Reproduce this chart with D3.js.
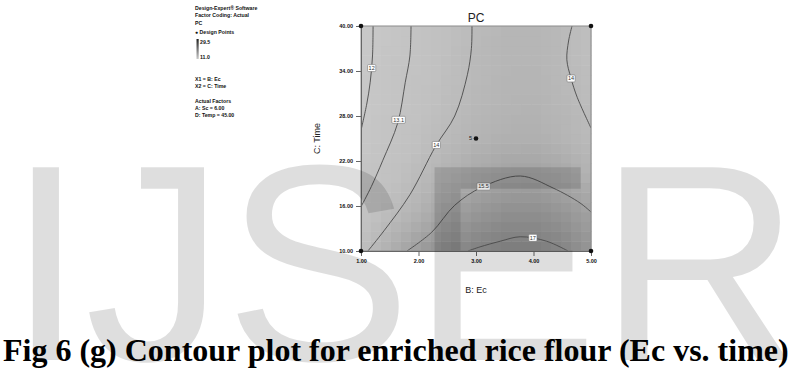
<!DOCTYPE html>
<html><head><meta charset="utf-8">
<script src="https://cdn.jsdelivr.net/npm/d3@7"></script>
<style>
html,body{margin:0;padding:0;background:#fff;}
svg{display:block;}
</style></head><body>
<svg id="chart" width="798" height="370"></svg>
<script>
// Axis ticks for the two plotted factors
const ecTicks = [1, 2, 3, 4, 5];
const timeTicks = [10, 16, 22, 28, 34, 40];

// PC response over the Ec x Time plane (rows: Time, columns: Ec)
const gridEc = [1, 1.5, 2, 2.5, 3, 3.5, 4, 4.5, 5];
const gridTime = [40, 35, 30, 25, 20, 15, 10];
const gridPC = [
  [11.7, 12.45, 13.1, 13.6, 14.05, 14.3, 14.35, 14.15, 13.6],
  [11.7, 12.5, 13.15, 13.65, 14.1, 14.35, 14.4, 14.1, 13.7],
  [11.85, 12.65, 13.3, 13.8, 14.2, 14.45, 14.5, 14.25, 13.85],
  [12.1, 12.95, 13.55, 14.1, 14.5, 14.7, 14.75, 14.5, 14.05],
  [12.6, 13.35, 14.0, 14.6, 15.1, 15.45, 15.5, 15.2, 14.6],
  [13.1, 13.9, 14.6, 15.5, 16.1, 16.5, 16.55, 16.2, 15.5],
  [13.7, 14.8, 15.8, 16.6, 17.2, 17.5, 17.5, 17.1, 16.2]
];

// Contour lines: [Ec, Time] vertices, label text and where the label sits along the line
const contour12 = [[1.21, 40], [1.2, 36], [1.16, 32.5], [1.1, 29.6], [1.0, 26.1]];
const contour13 = [[1.87, 40], [1.85, 36], [1.77, 32.5], [1.64, 27.1], [1.38, 22.1], [1.18, 18.6], [1.0, 15.9]];
const contour14a = [[2.93, 40], [2.92, 37], [2.85, 33.5], [2.63, 28], [2.3, 24], [1.85, 17.5], [1.4, 12.7], [1.12, 10]];
const contour14b = [[4.67, 40], [4.61, 38], [4.58, 35.5], [4.65, 33.1], [4.76, 30.5], [5.0, 26.4]];
const contour15 = [[1.8, 10], [2.23, 12.5], [2.63, 16.1], [3.1, 18.5], [3.77, 20], [4.34, 18.4], [4.81, 16.4], [5.0, 15.2]];
const contour17 = [[2.86, 10], [3.07, 10.55], [3.42, 11.3], [3.77, 11.9], [4.23, 11.3], [4.6, 10]];
const contourLabels = ["12", "13.1", "14", "14", "15.5", "17"];
const contourLabelAt = [0.4, 0.5, 0.5, 0.5, 0.46, 0.64];
const contourLines = [contour12, contour13, contour14a, contour14b, contour15, contour17];

// Design points
const designEc = [1, 5, 1, 5, 3];
const designTime = [40, 40, 10, 10, 25];
const designReps = ["", "", "", "", "5"];

// Side notes
const noteLines = ["Design-Expert\u00ae Software", "Factor Coding: Actual", "PC", "\u25CF Design Points"];
const noteRange = ["29.5", "11.0"];
const noteFactors = ["X1 = B: Ec", "X2 = C: Time"];
const noteActual = ["Actual Factors", "A: Sc = 6.00", "D: Temp = 45.00"];

const caption = "Fig 6 (g) Contour plot for enriched rice flour (Ec vs. time)";
const watermark = "IJSER";

const svg = d3.select("#chart");
const x = d3.scaleLinear().domain([1, 5]).range([361, 591]);
const y = d3.scaleLinear().domain([10, 40]).range([251, 26]);
const shade = d3.scaleLinear()
  .domain([11.5, 13.5, 14.5, 15.5, 16.5, 17.5])
  .range(["#c9c9c9", "#c1c1c1", "#b4b4b4", "#a2a2a2", "#8f8f8f", "#7b7b7b"]).clamp(true);

// bilinear lookup into the response grid
function pcAt(ec, t) {
  const ci = Math.min(gridEc.length - 2, Math.max(0, d3.bisectRight(gridEc, ec) - 1));
  const rev = gridTime.slice().reverse();
  const ri = Math.min(rev.length - 2, Math.max(0, d3.bisectRight(rev, t) - 1));
  const fx = (ec - gridEc[ci]) / (gridEc[ci + 1] - gridEc[ci]);
  const fy = (t - rev[ri]) / (rev[ri + 1] - rev[ri]);
  const row = k => gridPC[gridTime.length - 1 - k];
  const a = row(ri)[ci], b = row(ri)[ci + 1], c = row(ri + 1)[ci], d = row(ri + 1)[ci + 1];
  return (a * (1 - fx) + b * fx) * (1 - fy) + (c * (1 - fx) + d * fx) * fy;
}

// shaded surface as blocks
const nb = 23;
const blocks = [];
for (let i = 0; i < nb; i++) for (let j = 0; j < nb; j++) {
  const e0 = 1 + i * 4 / nb, e1 = 1 + (i + 1) * 4 / nb;
  const t0 = 10 + j * 30 / nb, t1 = 10 + (j + 1) * 30 / nb;
  blocks.push({e0, e1, t0, t1, v: pcAt((e0 + e1) / 2, (t0 + t1) / 2)});
}
svg.append("g").selectAll("rect").data(blocks).join("rect")
  .attr("x", d => x(d.e0)).attr("width", d => x(d.e1) - x(d.e0) + 0.5)
  .attr("y", d => y(d.t1)).attr("height", d => y(d.t0) - y(d.t1) + 0.5)
  .attr("fill", d => shade(d.v));

svg.append("clipPath").attr("id", "plotclip").append("rect")
  .attr("x", x(1)).attr("y", y(40)).attr("width", x(5) - x(1)).attr("height", y(10) - y(40));

// contour lines
const line = d3.line().x(d => x(d[0])).y(d => y(d[1])).curve(d3.curveCatmullRom.alpha(0.5));
const cg = svg.append("g").attr("clip-path", "url(#plotclip)");
const paths = contourLines.map(pts => cg.append("path").attr("d", line(pts))
  .attr("fill", "none").attr("stroke", "#4a4a4a").attr("stroke-width", 0.9));

// contour labels
paths.forEach((p, i) => {
  const node = p.node();
  const pt = node.getPointAtLength(node.getTotalLength() * contourLabelAt[i]);
  const w = contourLabels[i].length * 2.6 + 3;
  svg.append("rect").attr("x", pt.x - w / 2).attr("y", pt.y - 3.5).attr("width", w).attr("height", 7)
    .attr("rx", 1).attr("fill", "#fff").attr("stroke", "#777").attr("stroke-width", 0.6);
  svg.append("text").attr("x", pt.x).attr("y", pt.y + 2).attr("text-anchor", "middle")
    .attr("font-family", "Liberation Sans Narrow, Liberation Sans, Arial, sans-serif")
    .attr("font-size", 5.5).attr("fill", "#333").text(contourLabels[i]);
});

// frame
svg.append("rect").attr("x", x(1)).attr("y", y(40)).attr("width", x(5) - x(1)).attr("height", y(10) - y(40))
  .attr("fill", "none").attr("stroke", "#8c8c8c").attr("stroke-width", 1);

const tickFont = "Liberation Sans Narrow, Liberation Sans, Arial, sans-serif";
// x axis
const xa = svg.append("g").attr("transform", `translate(0,${y(10)})`)
  .call(d3.axisBottom(x).tickValues(ecTicks).tickFormat(d3.format(".2f")).tickSize(5).tickPadding(3));
xa.select(".domain").attr("stroke", "#666");
xa.selectAll(".tick line").attr("stroke", "#666");
xa.selectAll("text").attr("font-family", tickFont).attr("font-size", 5.5).attr("font-weight", "bold").attr("fill", "#111");
// y axis
const ya = svg.append("g").attr("transform", `translate(${x(1)},0)`)
  .call(d3.axisLeft(y).tickValues(timeTicks).tickFormat(d3.format(".2f")).tickSize(5).tickPadding(3));
ya.select(".domain").attr("stroke", "#666");
ya.selectAll(".tick line").attr("stroke", "#666");
ya.selectAll("text").attr("font-family", tickFont).attr("font-size", 5.5).attr("font-weight", "bold").attr("fill", "#111");

svg.append("text").attr("x", (x(1) + x(5)) / 2).attr("y", 293).attr("text-anchor", "middle")
  .attr("font-family", "Liberation Sans, Arial, sans-serif").attr("font-size", 9).attr("fill", "#222").text("B: Ec");
svg.append("text").attr("transform", `translate(320,${y(25)}) rotate(-90)`).attr("text-anchor", "middle")
  .attr("font-family", "Liberation Sans, Arial, sans-serif").attr("font-size", 9).attr("fill", "#222").text("C: Time");
svg.append("text").attr("x", (x(1) + x(5)) / 2).attr("y", 22).attr("text-anchor", "middle")
  .attr("font-family", "Liberation Sans, Arial, sans-serif").attr("font-size", 12).attr("fill", "#222").text("PC");

// design points
svg.append("g").selectAll("circle").data(designEc).join("circle")
  .attr("cx", (d, i) => x(d)).attr("cy", (d, i) => y(designTime[i])).attr("r", 2.3).attr("fill", "#111");
svg.append("g").selectAll("text").data(designEc).join("text")
  .attr("x", (d, i) => x(d) - 4).attr("y", (d, i) => y(designTime[i]) + 1.5).attr("text-anchor", "end")
  .attr("font-family", tickFont).attr("font-size", 5.5).attr("fill", "#222").text((d, i) => designReps[i]);

// side notes
const ng = svg.append("g").attr("font-family", "Liberation Sans Narrow, Liberation Sans, Arial, sans-serif")
  .attr("font-size", 5.2).attr("font-weight", "bold").attr("fill", "#111");
noteLines.forEach((s, i) => ng.append("text").attr("x", 195).attr("y", [10, 17.3, 24.5, 34][i]).text(s));
const grad = svg.append("defs").append("linearGradient").attr("id", "pcbar").attr("x1", 0).attr("y1", 1).attr("x2", 0).attr("y2", 0);
grad.append("stop").attr("offset", 0).attr("stop-color", shade(11));
grad.append("stop").attr("offset", 1).attr("stop-color", "#222");
svg.append("rect").attr("x", 196.5).attr("y", 39).attr("width", 2.2).attr("height", 20).attr("fill", "url(#pcbar)");
noteRange.forEach((s, i) => ng.append("text").attr("x", 200).attr("y", [43.5, 59][i]).text(s));
noteFactors.forEach((s, i) => ng.append("text").attr("x", 195).attr("y", 81 + i * 7.3).text(s));
noteActual.forEach((s, i) => ng.append("text").attr("x", 195).attr("y", 102.5 + i * 7.3).text(s));

// watermark overlay
svg.append("text").attr("x", 7).attr("y", 360)
  .attr("font-family", "Liberation Sans, Arial, sans-serif").attr("font-size", 280)
  .attr("fill", "#000").attr("fill-opacity", 0.13).text(watermark);

// caption
svg.append("text").attr("x", 3).attr("y", 361)
  .attr("font-family", "Liberation Serif, Times New Roman, serif").attr("font-size", 32).attr("font-weight", "bold")
  .attr("fill", "#000").text(caption);
</script>
</body></html>
